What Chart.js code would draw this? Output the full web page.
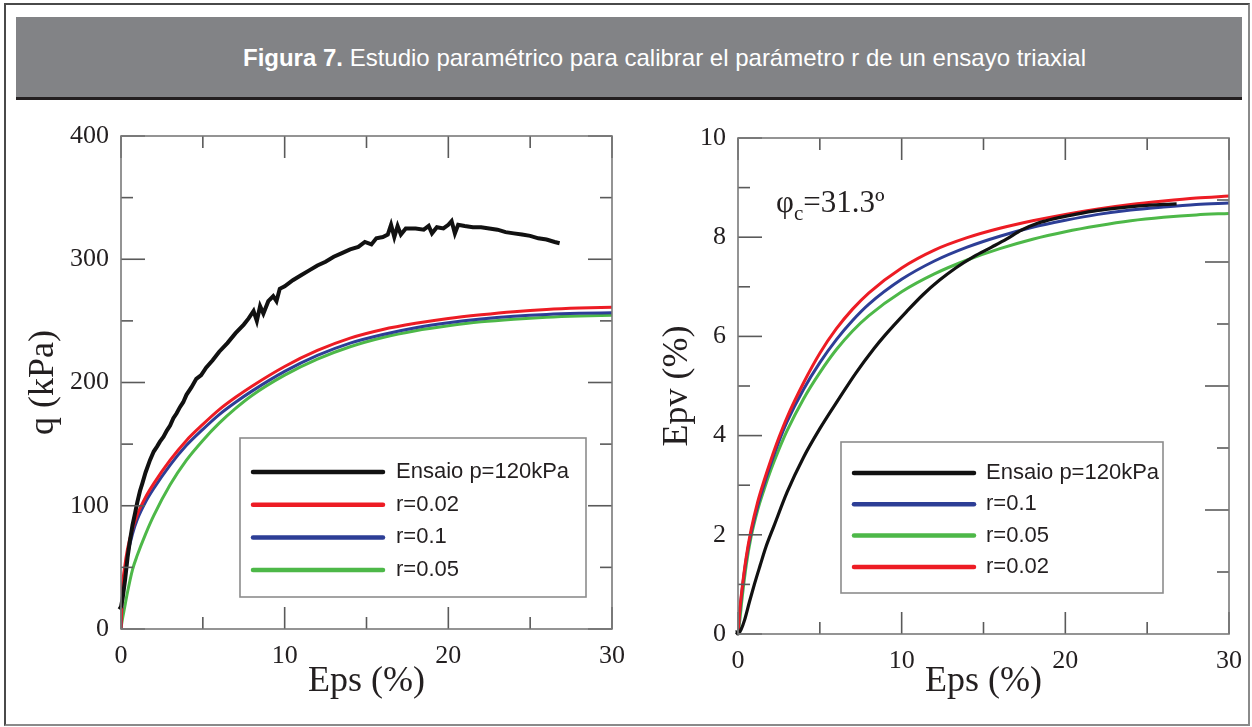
<!DOCTYPE html>
<html>
<head>
<meta charset="utf-8">
<script src="https://cdn.jsdelivr.net/npm/chart.js@4.4.1/dist/chart.umd.min.js"></script>
<style>
  html, body { margin: 0; padding: 0; background: #fff; }
  body { width: 1252px; height: 727px; position: relative; overflow: hidden; }
  #frame { position: absolute; left: 4px; top: 3px; width: 1246px; height: 723px; box-sizing: border-box;
           border: 2px solid #4a4a4a; border-right-color: #8a8a8a; border-bottom-color: #8a8a8a; }
  #band { position: absolute; left: 16px; top: 17px; width: 1226px; height: 83px; box-sizing: border-box;
          padding-left: 71px; background: #828386;
          border-bottom: 3px solid #231f20; color: #fff; text-align: center;
          font: 24px "Liberation Sans", Arial, sans-serif; line-height: 82px; }
  .box { position: absolute; top: 108px; height: 612px; }
  #leftBox { left: 8px; width: 632px; }
  #rightBox { left: 648px; width: 607px; }
</style>
</head>
<body>
<div id="frame"></div>
<div id="band"><b>Figura 7.</b> Estudio paramétrico para calibrar el parámetro r de un ensayo triaxial</div>
<div class="box" id="leftBox"><canvas id="qChart"></canvas></div>
<div class="box" id="rightBox"><canvas id="epvChart"></canvas></div>
<script>
// ---- left panel: q vs Eps ----
const epsExpL = [-0.4, -0.3, -0.1, 0, 0.1, 0.25, 0.4, 0.55, 0.7, 0.86, 1.0, 1.16, 1.3, 1.5, 1.77, 2.0, 2.2, 2.38, 2.6, 2.8,
  3.0, 3.2, 3.4, 3.6, 3.8, 4.0, 4.3, 4.6, 4.9, 5.2, 5.6, 6.0, 6.5, 7.0, 7.5, 7.8, 8.1, 8.3, 8.5, 8.7,
  9.0, 9.3, 9.5, 9.7, 10.0, 10.5, 11.0, 11.5, 12.0, 12.5, 13.0, 13.5, 14.0, 14.5, 14.9, 15.3, 15.6, 16.0, 16.3, 16.5,
  16.7, 16.9, 17.1, 17.4, 18.0, 18.5, 18.8, 19.0, 19.3, 19.7, 20.0, 20.2, 20.4, 20.6, 21.0, 21.5, 22.0, 22.5, 23.0, 23.5,
  24.0, 24.5, 25.0, 25.5, 26.0, 26.5, 26.8];
const qExpL = [8, 13, 16, 18, 25, 40, 58, 72, 84, 94, 103, 112, 118, 127, 137, 144, 148, 152, 156, 161,
  165, 171, 175, 180, 184, 190, 196, 203, 206, 212, 218, 225, 232, 240, 247, 252, 258, 250, 262, 256,
  266, 270, 266, 276, 278, 283, 287, 291, 295, 298, 302, 305, 308, 310, 314, 312, 317, 318, 320, 328,
  318, 327, 320, 325, 325, 324, 327, 321, 326, 325, 328, 331, 321, 328, 327, 326, 326, 325, 324, 322,
  321, 320, 319, 317, 316, 314, 313];

const epsModelL = [0, 0.05, 0.1, 0.2, 0.4, 0.7, 1, 1.5, 2, 3, 4, 5, 6, 7, 8, 10, 12, 14, 16, 18, 20, 22, 24, 26, 28, 30];
const qR002 = [0, 20, 36, 48, 65, 81, 93, 107, 118, 137, 153, 166, 178, 188, 197, 213, 226, 236, 243, 248, 252, 255, 257.5, 259.3, 260.4, 261];
const qR01  = [0, 15, 28, 42, 60, 77, 89, 103, 114, 133, 149, 162, 174, 184, 193, 209, 222, 232, 239, 244.5, 248.5, 251.5, 253.7, 255.2, 256.1, 256.6];
const qR005 = [0, 5, 9, 16, 30, 48, 60, 77, 92, 117, 137, 153, 167, 179, 189.5, 206, 219, 229, 236.5, 242, 246, 249.2, 251.4, 253, 254, 254.6];

// ---- right panel: Epv vs Eps ----
const epsExpR = [-0.3, -0.15, 0, 0.2, 0.4, 0.7, 1.0, 1.35, 1.7, 2.2, 3.0, 4.0, 5.0, 6.2, 7.2, 8.3, 9.0, 10.3, 11.3, 12.3,
  13.3, 14.4, 15.5, 16.4, 17.3, 18.3, 19.4, 20.6, 22.0, 23.0, 24.5, 26.0, 26.8];
const epvExpR = [0.0, 0.05, 0, 0.1, 0.28, 0.65, 1.0, 1.38, 1.75, 2.18, 2.86, 3.56, 4.14, 4.76, 5.26, 5.75, 6.03, 6.5, 6.84, 7.13,
  7.38, 7.61, 7.8, 7.96, 8.14, 8.28, 8.38, 8.46, 8.54, 8.58, 8.63, 8.66, 8.67];

const epsModelR = [0, 0.1, 0.25, 0.5, 0.8, 1.2, 1.6, 2, 2.5, 3, 4, 5, 6, 7, 8, 10, 12, 14, 16, 18, 20, 22, 24, 26, 28, 30];
const epvR01  = [0, 0.42, 0.88, 1.5, 2.04, 2.58, 3.02, 3.42, 3.88, 4.28, 4.93, 5.47, 5.93, 6.32, 6.65, 7.15, 7.52, 7.8, 8.02, 8.2, 8.34, 8.46, 8.55, 8.61, 8.66, 8.69];
const epvR005 = [0, 0.25, 0.72, 1.38, 1.96, 2.5, 2.92, 3.3, 3.72, 4.1, 4.74, 5.27, 5.73, 6.11, 6.42, 6.9, 7.26, 7.54, 7.77, 7.96, 8.11, 8.23, 8.33, 8.4, 8.45, 8.48];
const epvR002 = [0, 0.45, 0.92, 1.55, 2.1, 2.66, 3.1, 3.5, 3.96, 4.37, 5.06, 5.66, 6.15, 6.55, 6.88, 7.38, 7.74, 7.99, 8.18, 8.33, 8.46, 8.57, 8.66, 8.73, 8.79, 8.83];

// tick marks drawn inside the frame
const xMajor = [0, 10, 20, 30], xMinor = [5, 15, 25];
const qMajor = [0, 100, 200, 300, 400], qMinor = [50, 150, 250, 350];
const epvMajor = [0, 2, 4, 6, 8, 10], epvMinor = [1, 3, 5, 7, 9];
const epvRightMajor = [2.5, 5, 7.5], epvRightMinor = [1.25, 3.75, 6.25, 8.75];

const BLACK = '#111111', RED = '#ed1c24', BLUE = '#2d3e96', GREEN = '#4db848';
const serif = (s) => ({ family: '"Liberation Serif", "Times New Roman", serif', size: s });

const pts = (xs, ys) => xs.map((x, i) => ({ x: x, y: ys[i] }));

const frameTicks = {
  id: 'frameTicks',
  afterDatasetsDraw(chart, args, o) {
    const { ctx, chartArea: a, scales: { x, y } } = chart;
    const seg = (x1, y1, x2, y2) => { ctx.beginPath(); ctx.moveTo(x1, y1); ctx.lineTo(x2, y2); ctx.stroke(); };
    ctx.save();
    ctx.strokeStyle = '#5a5a5a';
    ctx.lineWidth = 1.6;
    o.xMajor.forEach(v => { const p = x.getPixelForValue(v); seg(p, a.bottom, p, a.bottom - 22); seg(p, a.top, p, a.top + 22); });
    o.xMinor.forEach(v => { const p = x.getPixelForValue(v); seg(p, a.bottom, p, a.bottom - 12); seg(p, a.top, p, a.top + 12); });
    o.yMajor.forEach(v => { const p = y.getPixelForValue(v); seg(a.left, p, a.left + 24, p); });
    o.yMinor.forEach(v => { const p = y.getPixelForValue(v); seg(a.left, p, a.left + 12, p); });
    o.rMajor.forEach(v => { const p = y.getPixelForValue(v); seg(a.right, p, a.right - 24, p); });
    o.rMinor.forEach(v => { const p = y.getPixelForValue(v); seg(a.right, p, a.right - 12, p); });
    ctx.strokeStyle = '#7a7a7a';
    ctx.lineWidth = 1.6;
    ctx.strokeRect(a.left, a.top, a.right - a.left, a.bottom - a.top);
    ctx.restore();
  }
};

const boxLegend = {
  id: 'boxLegend',
  afterDatasetsDraw(chart, args, o) {
    const { ctx, chartArea: a } = chart;
    const x0 = a.left + o.left, y0 = a.bottom - o.bottom - o.height;
    ctx.save();
    ctx.fillStyle = '#fff';
    ctx.fillRect(x0, y0, o.width, o.height);
    ctx.strokeStyle = '#8c8c8c';
    ctx.lineWidth = 1.6;
    ctx.strokeRect(x0, y0, o.width, o.height);
    ctx.font = '22px "Liberation Sans", Arial, sans-serif';
    ctx.textBaseline = 'middle';
    chart.data.datasets.forEach((ds, i) => {
      const yy = y0 + o.firstRow + i * o.rowGap;
      ctx.strokeStyle = ds.borderColor;
      ctx.lineWidth = 4.5;
      ctx.lineCap = 'round';
      ctx.beginPath(); ctx.moveTo(x0 + o.lineStart, yy); ctx.lineTo(x0 + o.lineStart + o.lineLen, yy); ctx.stroke();
      ctx.fillStyle = '#231f20';
      ctx.fillText(ds.label, x0 + o.textStart, yy);
    });
    ctx.restore();
  }
};

const phiNote = {
  id: 'phiNote',
  afterDatasetsDraw(chart, args, o) {
    if (!o.show) return;
    const { ctx, chartArea: a } = chart;
    const fam = '"Liberation Serif", "Times New Roman", serif';
    let x = a.left + 38, y = a.top + 74;
    ctx.save();
    ctx.fillStyle = '#231f20';
    ctx.textBaseline = 'alphabetic';
    ctx.font = '31px ' + fam;
    ctx.fillText('φ', x, y); x += ctx.measureText('φ').width;
    ctx.font = '21px ' + fam;
    ctx.fillText('c', x, y + 8); x += ctx.measureText('c').width;
    ctx.font = '31px ' + fam;
    ctx.fillText('=31.3º', x, y);
    ctx.restore();
  }
};

function line(label, data, color, width, opts) {
  return Object.assign({ label: label, data: data, borderColor: color, backgroundColor: color,
    borderWidth: width, pointRadius: 0, fill: false, cubicInterpolationMode: 'monotone' }, opts || {});
}

function axes(xMax, yMax, yStep, yTitle, yWidth, yTitlePad, xHeight) {
  return {
    x: { type: 'linear', min: 0, max: xMax,
      ticks: { stepSize: 10, padding: 12, color: '#231f20', font: serif(26), maxRotation: 0 },
      grid: { display: false, drawTicks: false }, border: { display: false },
      title: { display: true, text: 'Eps (%)', color: '#231f20', font: serif(36), padding: { top: 0, bottom: 17 } },
      afterFit(s) { s.height = xHeight; } },
    y: { type: 'linear', min: 0, max: yMax,
      ticks: { stepSize: yStep, padding: 12, color: '#231f20', font: serif(26) },
      grid: { display: false, drawTicks: false }, border: { display: false },
      title: { display: true, text: yTitle, color: '#231f20', font: serif(36), padding: { top: yTitlePad, bottom: 0 } },
      afterFit(s) { s.width = yWidth; } }
  };
}

new Chart(document.getElementById('qChart'), {
  type: 'line',
  data: { datasets: [
    line('Ensaio p=120kPa', pts(epsExpL, qExpL), BLACK, 4, { cubicInterpolationMode: 'default', tension: 0, clip: false }),
    line('r=0.02', pts(epsModelL, qR002), RED, 3),
    line('r=0.1', pts(epsModelL, qR01), BLUE, 3),
    line('r=0.05', pts(epsModelL, qR005), GREEN, 3)
  ] },
  options: {
    responsive: true, maintainAspectRatio: false, animation: false,
    layout: { padding: { top: 28, right: 28, left: 0, bottom: 0 } },
    scales: axes(30, 400, 100, 'q (kPa)', 113, 14.4, 91),
    plugins: {
      legend: { display: false }, tooltip: { enabled: false },
      frameTicks: { xMajor: xMajor, xMinor: xMinor, yMajor: qMajor, yMinor: qMinor, rMajor: qMajor, rMinor: qMinor },
      boxLegend: { left: 119, width: 346, bottom: 32, height: 159, lineStart: 13, lineLen: 130, textStart: 156, firstRow: 34, rowGap: 32.7 },
      phiNote: { show: false }
    }
  },
  plugins: [frameTicks, boxLegend, phiNote]
});

new Chart(document.getElementById('epvChart'), {
  type: 'line',
  data: { datasets: [
    line('Ensaio p=120kPa', pts(epsExpR, epvExpR), BLACK, 3.2, { clip: false, order: 0 }),
    line('r=0.1', pts(epsModelR, epvR01), BLUE, 3, { order: 2 }),
    line('r=0.05', pts(epsModelR, epvR005), GREEN, 3, { order: 3 }),
    line('r=0.02', pts(epsModelR, epvR002), RED, 3, { order: 1 })
  ] },
  options: {
    responsive: true, maintainAspectRatio: false, animation: false,
    layout: { padding: { top: 30, right: 26, left: 0, bottom: 0 } },
    scales: axes(30, 10, 2, 'Epv (%)', 90, 8.4, 86),
    plugins: {
      legend: { display: false }, tooltip: { enabled: false },
      frameTicks: { xMajor: xMajor, xMinor: xMinor, yMajor: epvMajor, yMinor: epvMinor, rMajor: epvRightMajor, rMinor: epvRightMinor },
      boxLegend: { left: 103, width: 322, bottom: 41, height: 151, lineStart: 13, lineLen: 120, textStart: 145, firstRow: 31, rowGap: 31.3 },
      phiNote: { show: true }
    }
  },
  plugins: [frameTicks, boxLegend, phiNote]
});
</script>
</body>
</html>
